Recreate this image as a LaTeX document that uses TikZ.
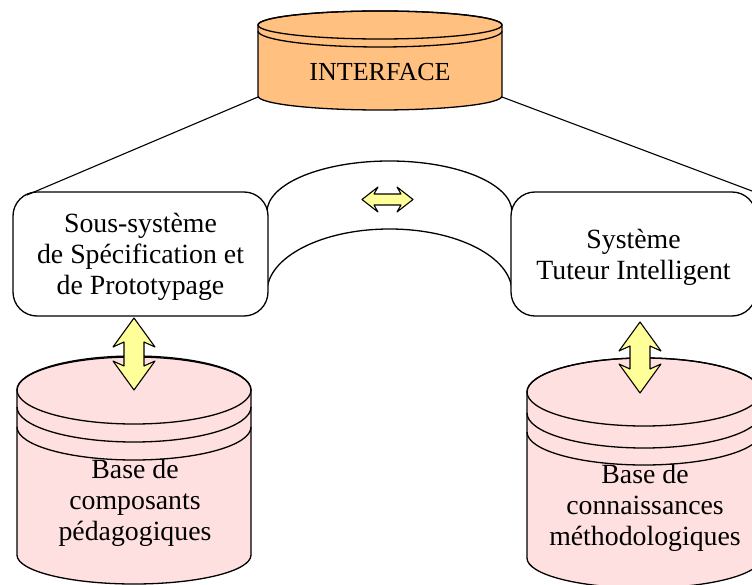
\documentclass[tikz,border=0pt]{standalone}
\usepackage{fontspec}
\setmainfont{Liberation Serif}
\definecolor{ifc}{RGB}{255,192,128}
\definecolor{cyl}{RGB}{255,224,224}
\definecolor{arr}{RGB}{255,255,153}
\begin{document}
\begin{tikzpicture}[x=1pt,y=1pt, line width=1.3pt, line join=round,
  lbl/.style={align=center, font=\fontsize{27.8}{30.8}\selectfont, inner sep=0pt},
  sysbox/.style={draw, fill=white, rounded corners=24pt, inner sep=0pt},
  dblarrow/.style={draw, fill=arr, line width=1.1pt},
  cylfill/.style={draw, fill=cyl},
  link/.style={draw, line width=1.1pt}]
\useasboundingbox (0,0) rectangle (752,-585);
\begin{scope}
\clip (0,0) rectangle (752,-585);

% ---------- arch between the two systems ----------
\draw (267,-212) arc[start angle=180, end angle=0, x radius=122.5, y radius=51];
\draw (267,-292) arc[start angle=180, end angle=0, x radius=122.5, y radius=63];

% ---------- system boxes ----------
\node[sysbox, minimum width=255pt, minimum height=124pt] (spec) at (140.5,-254) {};
\node[lbl] (specT) at (140.5,-257) {Sous-système\\de Spécification et\\de Prototypage};
\node[sysbox, minimum width=245pt, minimum height=124pt] (sti) at (633.5,-254) {};
\node[lbl] (stiT) at (633.5,-257) {Système\\Tuteur Intelligent};

% ---------- interface cylinder ----------
\draw[fill=ifc] (258,-25) -- (258,-96)
  arc[start angle=180, end angle=360, x radius=122, y radius=14]
  -- (502,-25)
  arc[start angle=0, end angle=180, x radius=122, y radius=14] -- cycle;
\draw (380,-25) ellipse[x radius=122, y radius=14];
\draw (258,-31) arc[start angle=180, end angle=360, x radius=122, y radius=16];
\node[font=\fontsize{26}{30}\selectfont, inner sep=0pt] (interface) at (380,-72) {INTERFACE};

\coordinate (ifL) at (258,-97);
\coordinate (ifR) at (502,-97);
\coordinate (specTL) at (27,-195);
\coordinate (stiTR) at (760,-194);
\draw[link] (ifL) -- (specTL);
\draw[link] (ifR) -- (stiTR);

% ---------- left database cylinder ----------
\draw[cylfill] (17,-390) -- (17,-555)
  arc[start angle=180, end angle=360, x radius=117, y radius=29]
  -- (251,-390)
  arc[start angle=0, end angle=180, x radius=117, y radius=33] -- cycle;
\draw (134,-390) ellipse[x radius=117, y radius=34];
\draw (17,-407) arc[start angle=180, end angle=360, x radius=117, y radius=35];
\draw (17,-427) arc[start angle=180, end angle=360, x radius=117, y radius=33];
\node[lbl] (bcp) at (135,-503) {Base de\\composants\\pédagogiques};

% ---------- right database cylinder ----------
\draw[cylfill] (527,-392) -- (527,-558)
  arc[start angle=180, end angle=360, x radius=117, y radius=30]
  -- (761,-392)
  arc[start angle=0, end angle=180, x radius=117, y radius=34] -- cycle;
\draw (644,-392) ellipse[x radius=117, y radius=34];
\draw (527,-413) arc[start angle=180, end angle=360, x radius=117, y radius=35];
\draw (527,-432) arc[start angle=180, end angle=360, x radius=117, y radius=33];
\node[lbl] (bcm) at (645,-508) {Base de\\connaissances\\méthodologiques};

% ---------- double arrows ----------
\draw[dblarrow] (134,-318) -- (155,-347) -- (144,-342) -- (144,-366) -- (155,-361)
  -- (134,-390) -- (113,-361) -- (124,-366) -- (124,-342) -- (113,-347) -- cycle;
\draw[dblarrow] (640,-322) -- (661,-351) -- (650,-346) -- (650,-369) -- (661,-364)
  -- (640,-393) -- (619,-364) -- (630,-369) -- (630,-346) -- (619,-351) -- cycle;
\draw[dblarrow] (362,-199.5) -- (378,-187) -- (374,-194) -- (401,-194) -- (397,-187)
  -- (413,-199.5) -- (397,-212) -- (401,-205) -- (374,-205) -- (378,-212) -- cycle;
\end{scope}
\end{tikzpicture}
\end{document}
